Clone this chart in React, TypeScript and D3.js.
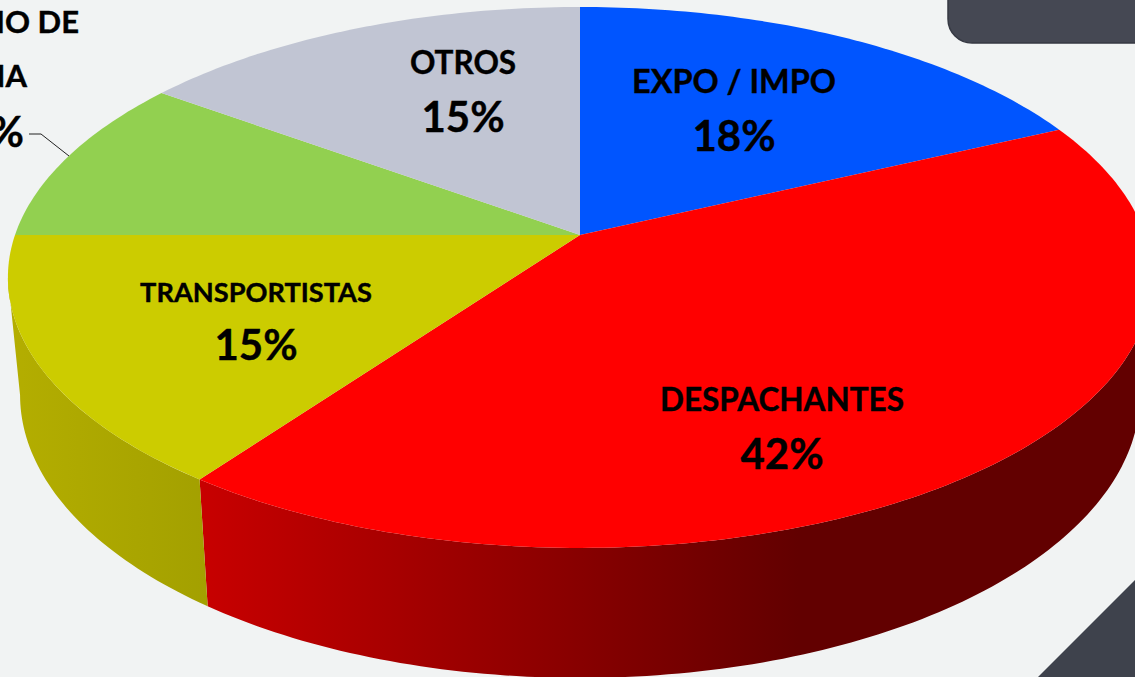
import React from "react";
import * as d3 from "d3";

const categories = ["EXPO / IMPO", "DESPACHANTES", "TRANSPORTISTAS", "SERVICIO DE ADUANA", "OTROS"];
const shares = [18, 42, 15, 10, 15];
const sliceColors = ["#0055ff", "#ff0000", "#cccc00", "#92d050", "#c1c5d3"];
const sideStops = [
  [],
  [["0", "#c80000"], ["0.64", "#620000"], ["1", "#620000"]],
  [["0", "#b4ae00"], ["1", "#a3a000"]],
  [],
  [],
];
const labelPositions = [
  [734, 92.5, 151, 32.4],
  [782, 411, 469, 31.5],
  [256, 301.5, 360, 27.2],
  [0, 0, 0, 0],
  [463, 73.5, 132, 31.5],
];

const W = 1135;
const H = 677;
const k = 0.157;
const topPlane = { x: 580, y: 235, rx: 565, ry: 263.8 };
const botPlane = { x: 580, y: 350.5, rx: 553, ry: 276 };
const silhouetteRight = Math.PI - Math.acos(k);
const silhouetteLeft = Math.PI + Math.acos(k);

function project(a: number, p: typeof topPlane): [number, number] {
  const u = Math.sin(a);
  const v = -Math.cos(a);
  const d = 1 - k * v;
  return [p.x + (p.rx * u) / d, p.y + (p.ry * v) / d];
}

function sweep(a0: number, a1: number, p: typeof topPlane) {
  const n = Math.max(2, Math.ceil(Math.abs(a1 - a0) * 60));
  return d3.range(n + 1).map((i) => project(a0 + ((a1 - a0) * i) / n, p));
}

const line = d3.line();

export default function App() {
  const arcs = d3.pie<number>().sort(null)(shares);
  const apex: [number, number] = [topPlane.x, topPlane.y];
  return (
    <svg
      width={W}
      height={H}
      viewBox={`0 0 ${W} ${H}`}
      style={{ position: "fixed", left: 0, top: 0, display: "block" }}
      fontFamily="Lato, sans-serif"
      fontWeight={700}
    >
      <defs>
        {sideStops.map((stops, i) =>
          stops.length ? (
            <linearGradient
              key={i}
              id={`side${i}`}
              gradientUnits="userSpaceOnUse"
              x1={i === 1 ? 200 : 8}
              x2={i === 1 ? 1135 : 208}
              y1={0}
              y2={0}
            >
              {stops.map(([o, c]) => (
                <stop key={o} offset={o} stopColor={c} />
              ))}
            </linearGradient>
          ) : null
        )}
      </defs>
      <rect width={W} height={H} fill="#f1f3f3" />
      <rect x={948} y={-40} width={240} height={83} rx={24} fill="#454853" stroke="#363943" strokeWidth={1.5} />
      <path d="M1038 677L1135 580V677Z" fill="#3e424c" />
      {arcs.map((d, i) => {
        if (!sideStops[i].length) return null;
        const a0 = Math.max(d.startAngle, silhouetteRight);
        const a1 = Math.min(d.endAngle, silhouetteLeft);
        const pts = [...sweep(a0, a1, topPlane), ...sweep(a1, a0, botPlane)];
        return <path key={i} d={line(pts) + "Z"} fill={`url(#side${i})`} />;
      })}
      {arcs.map((d, i) => (
        <path
          key={i}
          d={line([apex, ...sweep(d.startAngle, d.endAngle, topPlane)]) + "Z"}
          fill={sliceColors[i]}
        />
      ))}
      <g stroke="#000" strokeWidth={0.4}>
        {categories.map((c, i) => {
          if (i === 3) return null;
          const [x, y1, y2, fs] = labelPositions[i];
          return (
            <g key={c} textAnchor="middle" fill="#000">
              <text x={x} y={y1} fontSize={fs}>{c}</text>
              <text x={x} y={y2} fontSize={42}>{shares[i]}%</text>
            </g>
          );
        })}
        <g textAnchor="end" fill="#000">
          <text x={79} y={33} fontSize={31}>SERVICIO DE</text>
          <text x={27} y={87} fontSize={31}>ADUANA</text>
          <text x={24} y={147} fontSize={42}>{shares[3]}%</text>
        </g>
      </g>
      <path d="M29 134H41L69 156" fill="none" stroke="#222" strokeWidth={1} />
    </svg>
  );
}
